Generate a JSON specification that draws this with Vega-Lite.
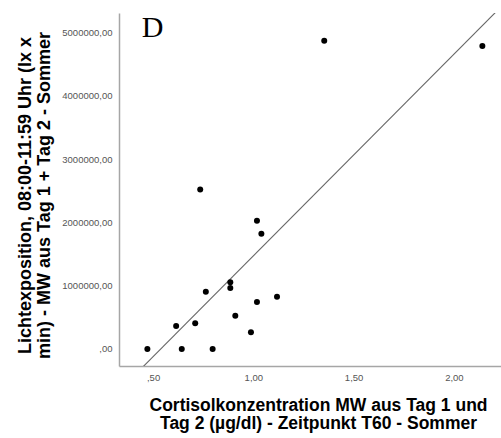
{
  "$schema": "https://vega.github.io/schema/vega-lite/v6.json",
  "autosize": {"type": "none"},
  "padding": {"left": 119, "top": 13, "right": 0, "bottom": 72},
  "width": 382,
  "height": 353,
  "background": "white",
  "config": {"view": {"stroke": null}, "font": "Liberation Sans"},
  "datasets": {
    "points": [
      {"cortisol": 0.4715, "licht": 0},
      {"cortisol": 0.643, "licht": 0},
      {"cortisol": 0.797, "licht": 0},
      {"cortisol": 0.615, "licht": 363000},
      {"cortisol": 0.71, "licht": 406000},
      {"cortisol": 0.763, "licht": 905000},
      {"cortisol": 0.885, "licht": 1054000},
      {"cortisol": 0.885, "licht": 964000},
      {"cortisol": 0.91, "licht": 526000},
      {"cortisol": 0.988, "licht": 263000},
      {"cortisol": 1.018, "licht": 742000},
      {"cortisol": 1.118, "licht": 826000},
      {"cortisol": 1.018, "licht": 2027000},
      {"cortisol": 1.04, "licht": 1820000},
      {"cortisol": 0.735, "licht": 2520000},
      {"cortisol": 1.3535, "licht": 4870000},
      {"cortisol": 2.142, "licht": 4787000}
    ],
    "fit": [
      {"cortisol": 0.33, "licht": -664000},
      {"cortisol": 2.235, "licht": 5407000}
    ],
    "label": [{"panel": "D"}]
  },
  "layer": [
    {
      "data": {"name": "fit"},
      "mark": {"type": "line", "clip": true, "color": "#666666", "strokeWidth": 1.1},
      "encoding": {
        "x": {"field": "cortisol", "type": "quantitative"},
        "y": {"field": "licht", "type": "quantitative"}
      }
    },
    {
      "data": {"name": "points"},
      "mark": {"type": "point", "filled": true, "color": "black", "opacity": 1, "size": 36},
      "encoding": {
        "x": {
          "field": "cortisol",
          "type": "quantitative",
          "scale": {"domain": [0.33, 2.235], "nice": false, "zero": false},
          "axis": {
            "values": [0.5, 1, 1.5, 2],
            "labelExpr": "datum.value < 1 ? substring(replace(format(datum.value, '.2f'), '.', ','), 1) : replace(format(datum.value, '.2f'), '.', ',')",
            "grid": false,
            "ticks": false,
            "domainColor": "#a6a6a6",
            "domainWidth": 1.5,
            "labelFont": "Liberation Sans",
            "labelFontSize": 9.5,
            "labelColor": "#555555",
            "labelPadding": 6,
            "title": ["Cortisolkonzentration MW aus Tag 1 und", "Tag 2 (µg/dl) - Zeitpunkt T60 - Sommer"],
            "titleFont": "Liberation Sans",
            "titleFontSize": 17.5,
            "titleFontWeight": "bold",
            "titleColor": "black",
            "titleLineHeight": 18.5,
            "titleAlign": "center",
            "titleBaseline": "top",
            "titleX": 199,
            "titleY": 30
          }
        },
        "y": {
          "field": "licht",
          "type": "quantitative",
          "scale": {"domain": [-270000, 5310000], "nice": false, "zero": false},
          "axis": {
            "values": [0, 1000000, 2000000, 3000000, 4000000, 5000000],
            "labelExpr": "datum.value == 0 ? ',00' : replace(format(datum.value, '.2f'), '.', ',')",
            "grid": false,
            "ticks": false,
            "domainColor": "#a6a6a6",
            "domainWidth": 1.5,
            "labelFont": "Liberation Sans",
            "labelFontSize": 9.5,
            "labelColor": "#555555",
            "labelPadding": 7,
            "title": ["Lichtexposition, 08:00-11:59 Uhr (lx x", "min) - MW aus Tag 1 + Tag 2 - Sommer"],
            "titleFont": "Liberation Sans",
            "titleFontSize": 18,
            "titleFontWeight": "bold",
            "titleColor": "black",
            "titleLineHeight": 19,
            "titleAngle": -90,
            "titleAlign": "center",
            "titleBaseline": "top",
            "titleX": -103,
            "titleY": 182
          }
        }
      }
    },
    {
      "data": {"name": "label"},
      "mark": {"type": "text", "font": "Liberation Serif", "fontSize": 30, "color": "black", "align": "center", "baseline": "alphabetic"},
      "encoding": {
        "x": {"datum": 0.4975, "type": "quantitative"},
        "y": {"datum": 4930000, "type": "quantitative"},
        "text": {"field": "panel"}
      }
    }
  ]
}
